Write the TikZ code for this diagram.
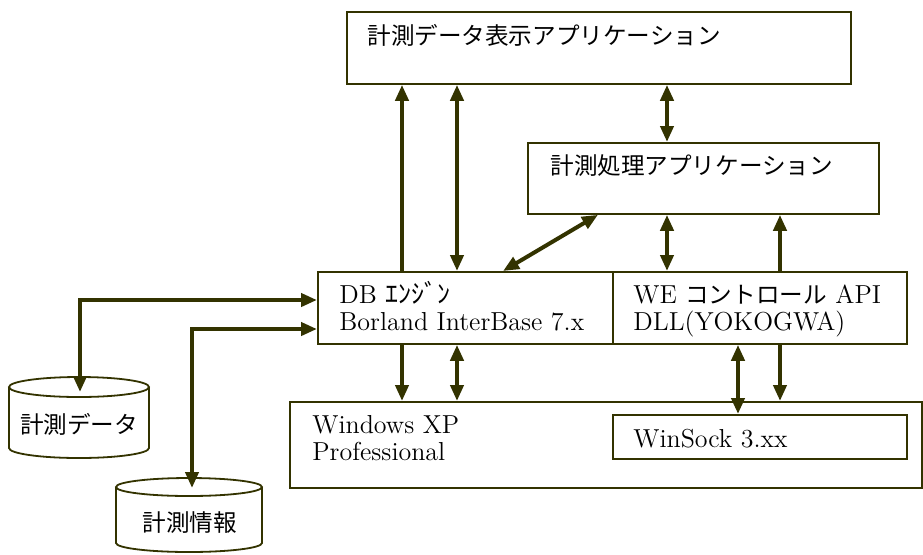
\documentclass[tikz,border=0pt]{standalone}
\usepackage{fontspec}
\newfontfamily\jp{Noto Sans CJK JP}
\usetikzlibrary{arrows.meta}

\definecolor{trait}{RGB}{51,51,0}

\tikzset{
  boite/.style={draw=trait, line width=0.9pt, inner sep=0pt, anchor=north west},
  texte/.style={inner sep=0pt, anchor=base west, align=left,
    font=\fontsize{13}{13.5}\selectfont},
  jtexte/.style={inner sep=0pt, anchor=base west,
    font=\fontsize{11.8}{13.5}\selectfont\jp},
  fleche/.style={draw=trait, line width=2pt},
  cyl/.style={draw=trait, line width=0.9pt}
}

\begin{document}
\begin{tikzpicture}[x=0.5pt, y=-0.5pt, >={Triangle[length=8pt,width=6.5pt]}]
  % cadre
  \useasboundingbox (0,0) rectangle (923,554);
  % boites
  \node[boite, minimum width=252pt, minimum height=36pt] (disp) at (346,11) {};
  \node[boite, minimum width=175.5pt, minimum height=35.5pt] (proc) at (527,142) {};
  \node[boite, minimum width=147.5pt, minimum height=36pt] (db) at (317,271) {};
  \node[boite, minimum width=147pt, minimum height=36pt] (we) at (612,271) {};
  \node[boite, minimum width=316pt, minimum height=43pt] (win) at (289,401) {};
  \node[boite, minimum width=147pt, minimum height=22pt] (sock) at (612,414) {};
  % textes des boites (ligne de base de la derniere ligne)
  \node[jtexte] (disptxt) at (367,44) {計測データ表示アプリケーション};
  \node[jtexte] (proctxt) at (550,174) {計測処理アプリケーション};
  \node[texte] (dbtxt) at (339,330) {DB {\jp ｴﾝｼﾞﾝ}\\Borland InterBase 7.x};
  \node[texte] (wetxt) at (633,330) {WE {\jp\fontsize{11.8}{13.5}\selectfont コントロール} API\\DLL(YOKOGWA)};
  \node[texte] (wintxt) at (312,460) {Windows XP\\Professional};
  \node[texte] (socktxt) at (633,447) {WinSock 3.xx};
  % cylindres
  \draw[cyl] (9,387) -- (9,448) arc[start angle=180, end angle=360, x radius=35pt, y radius=5pt] -- (149,387);
  \draw[cyl] (79,387) ellipse[x radius=35pt, y radius=5pt];
  \node[jtexte, anchor=center] (data) at (79,424) {計測データ};
  \draw[cyl] (116,487) -- (116,543) arc[start angle=180, end angle=360, x radius=36.5pt, y radius=4.5pt] -- (262,487);
  \draw[cyl] (189,487) ellipse[x radius=36.5pt, y radius=4.5pt];
  \node[jtexte, anchor=center] (info) at (190,523) {計測情報};
  % reperes
  \coordinate (c1) at (402,0);
  \coordinate (c2) at (457,0);
  \coordinate (c3) at (667,0);
  \coordinate (c4) at (780,0);
  \coordinate (c5) at (738,0);
  \coordinate (d1) at (598,0);
  \coordinate (d2) at (503,0);
  \coordinate (r1) at (0,300);
  \coordinate (r2) at (0,329);
  \coordinate (datatop) at (80,392);
  \coordinate (infotop) at (192,488);
  % fleches verticales
  \draw[fleche,->] (db.north -| c1) -- (disp.south -| c1);
  \draw[fleche,<->] (db.north -| c2) -- (disp.south -| c2);
  \draw[fleche,<->] (disp.south -| c3) -- (proc.north -| c3);
  \draw[fleche,<->] (proc.south -| c3) -- (we.north -| c3);
  \draw[fleche,->] (we.north -| c4) -- (proc.south -| c4);
  \draw[fleche,<->] (proc.south -| d1) -- (db.north -| d2);
  \draw[fleche,->] (db.south -| c1) -- (win.north -| c1);
  \draw[fleche,<->] (db.south -| c2) -- (win.north -| c2);
  \draw[fleche,<->] (we.south -| c5) -- (sock.north -| c5);
  \draw[fleche,->] (we.south -| c4) -- (win.north -| c4);
  % bases de donnees
  \draw[fleche,<->] (db.west |- r1) -| (datatop);
  \draw[fleche,<->] (db.west |- r2) -| (infotop);
\end{tikzpicture}
\end{document}
